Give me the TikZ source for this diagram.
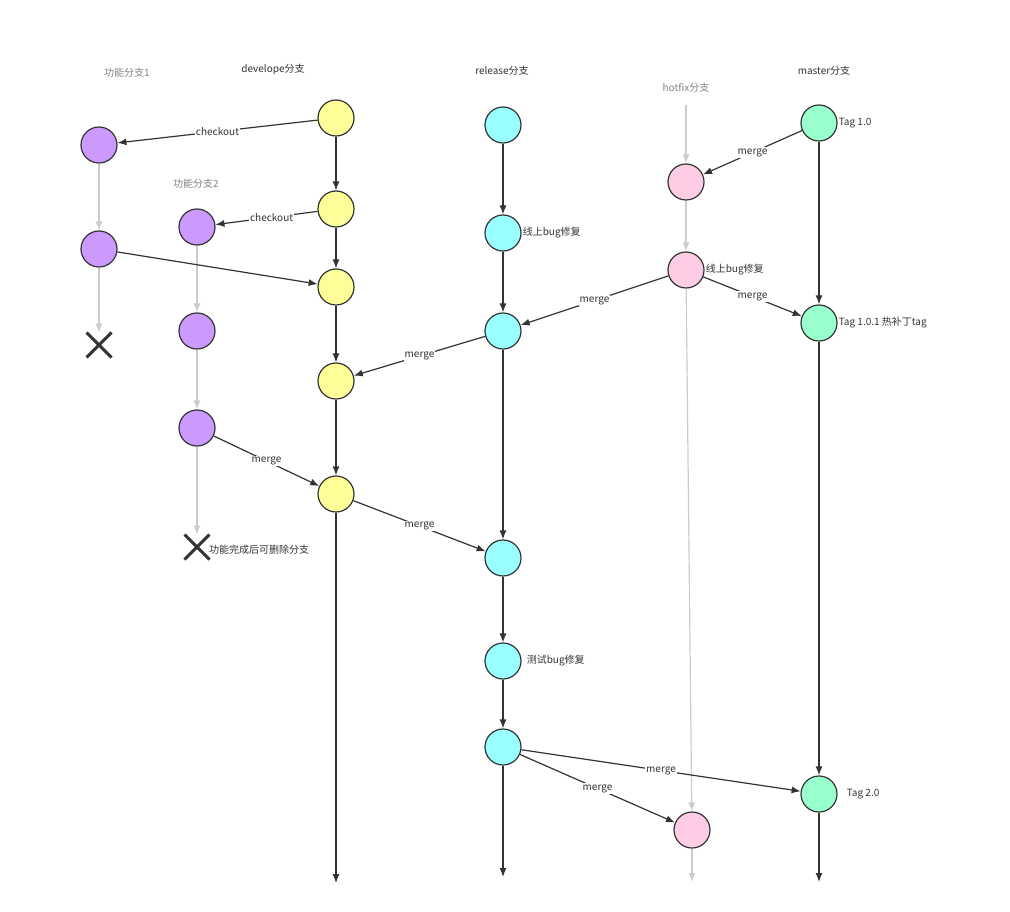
\documentclass[tikz,border=0pt]{standalone}
\usepackage{fontspec}
\setmainfont{Noto Sans CJK SC}
\usetikzlibrary{arrows.meta,shapes.misc}
\definecolor{pur}{HTML}{CC99FF}\definecolor{yel}{HTML}{FFFF99}
\definecolor{cya}{HTML}{99FFFF}\definecolor{pnk}{HTML}{FFCCE6}
\definecolor{grn}{HTML}{99FFCC}\definecolor{dk}{HTML}{333333}\definecolor{lg}{HTML}{CCCCCC}
\begin{document}
\begin{tikzpicture}[x=1pt,y=-1pt,font=\fontsize{10}{12}\selectfont,
 c/.style={circle,draw=dk,line width=1.2pt,minimum size=36pt,inner sep=0},
 xx/.style={cross out,draw=dk,line width=3pt,minimum size=22pt,inner sep=0},
 e/.style={draw=dk,line width=1.2pt,-{Latex[length=9pt,width=7pt]}},
 g/.style={draw=lg,line width=1.2pt,-{Latex[length=9pt,width=7pt]}},
 lb/.style={fill=white,inner sep=1pt,text=dk},
 t/.style={text=dk,inner sep=1pt},
 gt/.style={text=gray,inner sep=1pt}]
\useasboundingbox (0,0) rectangle (1010,912);
\node[gt] (l1) at (127,73) {功能分支1};
\node[t] (l2) at (273,69) {develope分支};
\node[t] (l3) at (502,71) {release分支};
\node[gt] (l4) at (686,88) {hotfix分支};
\node[t] (l5) at (824,71) {master分支};
\node[gt] (l6) at (196,184) {功能分支2};
\node[c,fill=pur] (f1a) at (99,145) {};
\node[c,fill=pur] (f1b) at (99,249) {};
\node[xx] (x1) at (99,345) {};
\node[c,fill=pur] (f2a) at (197,227) {};
\node[c,fill=pur] (f2b) at (197,331) {};
\node[c,fill=pur] (f2c) at (197,428) {};
\node[xx] (x2) at (197,547) {};
\node[t,anchor=west] (xt) at (208,550) {功能完成后可删除分支};
\node[c,fill=yel] (d1) at (336,118) {};
\node[c,fill=yel] (d2) at (336,209) {};
\node[c,fill=yel] (d3) at (336,287) {};
\node[c,fill=yel] (d4) at (336,381) {};
\node[c,fill=yel] (d5) at (336,494) {};
\coordinate (de) at (336,883);
\node[c,fill=cya] (r1) at (503,125) {};
\node[c,fill=cya] (r2) at (503,233) {};
\node[c,fill=cya] (r3) at (503,331) {};
\node[c,fill=cya] (r4) at (503,558) {};
\node[c,fill=cya] (r5) at (503,661) {};
\node[c,fill=cya] (r6) at (503,747) {};
\coordinate (re) at (503,877);
\coordinate (hs) at (686,105);
\node[c,fill=pnk] (h1) at (686,182) {};
\node[c,fill=pnk] (h2) at (686,270) {};
\node[c,fill=pnk] (h3) at (692,830) {};
\coordinate (he) at (692,882);
\node[c,fill=grn] (m1) at (819,123) {};
\node[c,fill=grn] (m2) at (819,323) {};
\node[c,fill=grn] (m3) at (819,794) {};
\coordinate (me) at (819,882);
\node[t,anchor=west] at (m1.east) {Tag 1.0};
\node[t,anchor=west] at (r2.east) {线上bug修复};
\node[t,anchor=west] at (h2.east) {线上bug修复};
\node[t,anchor=west] at (m2.east) {Tag 1.0.1 热补丁tag};
\node[t,anchor=west] at ([xshift=4pt]r5.east) {测试bug修复};
\node[t,anchor=west] at ([xshift=8pt]m3.east) {Tag 2.0};
% gray
\draw[g] (f1a)--(f1b); \draw[g] (f1b)--(x1);
\draw[g] (f2a)--(f2b); \draw[g] (f2b)--(f2c); \draw[g] (f2c)--(x2);
\draw[g] (hs)--(h1); \draw[g] (h1)--(h2); \draw[g] (h2)--(h3); \draw[g] (h3)--(he);
% dark
\draw[e] (d1)--(d2); \draw[e] (d2)--(d3); \draw[e] (d3)--(d4); \draw[e] (d4)--(d5); \draw[e] (d5)--(de);
\draw[e] (r1)--(r2); \draw[e] (r2)--(r3); \draw[e] (r3)--(r4); \draw[e] (r4)--(r5); \draw[e] (r5)--(r6); \draw[e] (r6)--(re);
\draw[e] (m1)--(m2); \draw[e] (m2)--(m3); \draw[e] (m3)--(me);
\draw[e] (d1)--node[lb]{checkout}(f1a);
\draw[e] (d2)--node[lb,pos=0.45]{checkout}(f2a);
\draw[e] (f1b)--(d3);
\draw[e] (m1)--node[lb]{merge}(h1);
\draw[e] (h2)--node[lb]{merge}(r3);
\draw[e] (h2)--node[lb]{merge}(m2);
\draw[e] (r3)--node[lb]{merge}(d4);
\draw[e] (f2c)--node[lb]{merge}(d5);
\draw[e] (d5)--node[lb]{merge}(r4);
\draw[e] (r6)--node[lb]{merge}(m3);
\draw[e] (r6)--node[lb]{merge}(h3);
\end{tikzpicture}
\end{document}
